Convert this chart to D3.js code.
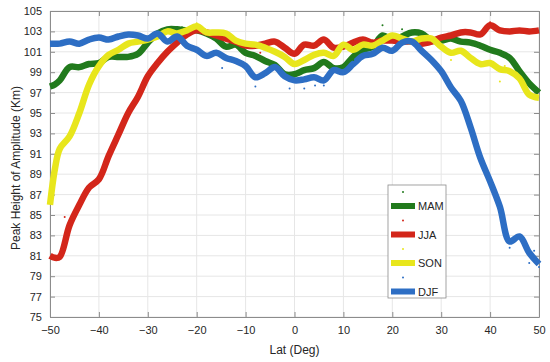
<!DOCTYPE html>
<html>
<head>
<meta charset="utf-8">
<script src="https://cdn.jsdelivr.net/npm/d3@7"></script>
<style>
  body { margin: 0; background: #fff; }
  text { font-family: "Liberation Sans", Arial, sans-serif; fill: #262626; }
</style>
</head>
<body>
<svg id="chart"></svg>
<script>
let width = 550,
    height = 362;

// latitude grid shared by every season
let lats = [-50, -49, -48, -46, -44, -42, -40, -38, -36, -34, -32, -30, -28, -26, -24, -22, -20,
    -18, -16, -14, -12, -10, -8, -6, -4, -2, 0, 2, 4, 6, 8, 10, 12, 14, 16, 18, 20,
    22, 24, 26, 28, 30, 32, 34, 36, 38, 40, 42, 44, 46, 48, 50];

let mam = [97.6, 97.8, 98.2, 99.5, 99.5, 99.8, 99.9, 100.5, 100.5, 100.5, 100.8, 101.9, 102.8, 103.2, 103.2, 103.1, 103.1,
    102.8, 102.3, 101.5, 101.7, 100.9, 100.6, 100.1, 99.7, 98.8, 98.8, 99.2, 99.4, 100.0, 99.4, 99.5, 100.5, 101.2, 101.5, 102.6, 102.2,
    102.5, 102.9, 102.8, 102.1, 102.1, 102.3, 102.0, 101.9, 101.6, 101.2, 100.9, 100.4, 99.1, 97.9, 97.0];

let jja = [81.0, 80.8, 80.9, 84.0, 86.0, 87.7, 88.5, 90.8, 92.9, 95.0, 96.6, 98.6, 99.9, 101.0, 101.9, 102.7, 103.1,
    102.9, 102.6, 102.3, 102.0, 101.6, 101.6, 101.8, 102.0, 101.4, 100.8, 101.7, 101.6, 102.2, 101.4, 101.5, 101.9, 102.2, 101.9, 102.1, 102.1,
    102.0, 102.0, 101.8, 102.0, 102.4, 102.6, 102.9, 102.9, 102.7, 103.6, 103.1, 103.0, 103.1, 103.0, 103.1];

let son = [86.0, 89.5, 91.5, 92.7, 95.0, 97.8, 99.6, 100.7, 101.2, 101.8, 102.0, 102.2, 102.5, 103.0, 102.8, 103.1, 103.5,
    102.9, 102.9, 102.8, 102.1, 101.8, 101.7, 101.4, 101.0, 100.5, 99.8, 100.2, 100.7, 100.9, 100.6, 101.7, 101.2, 101.7, 101.6, 102.1, 102.6,
    102.3, 102.0, 102.3, 102.3, 101.5, 100.9, 101.1, 100.4, 99.8, 99.9, 99.3, 99.1, 98.4, 96.8, 96.5];

let djf = [101.8, 101.8, 101.8, 102.0, 101.8, 102.2, 102.4, 102.2, 102.5, 102.7, 102.6, 102.3, 102.8, 102.0, 102.5, 101.6, 101.2,
    100.6, 100.9, 100.4, 100.1, 99.6, 98.5, 98.9, 99.5, 98.6, 98.2, 98.3, 98.5, 98.2, 99.2, 99.0, 99.8, 100.6, 100.8, 101.4, 101.1,
    101.9, 102.0, 101.1, 100.2, 99.1, 97.5, 96.2, 93.6, 90.6, 88.3, 85.8, 82.4, 82.9, 81.3, 80.2];

// scattered raw points (lat, height)
let mamDots = [[18, 103.6], [22, 103.2], [-23, 103.4], [12, 100.2]];
let jjaDots = [[-47, 84.8], [-7, 100.9], [40, 103.9]];
let sonDots = [[32, 100.2], [42, 98.1], [43, 99.6], [-20, 103.8]];
let djfDots = [[-17, 100.9], [-14.8, 99.4], [-8, 97.6], [-1, 97.4], [2, 97.4], [4.2, 97.7], [6, 97.7],
    [44, 81.8], [48, 80.3], [49, 81.5], [50, 79.9]];

let seasons = ['MAM', 'JJA', 'SON', 'DJF'];
let colors = ['#217a1c', '#d3261a', '#e8e61c', '#2d6ec4'];

let xTicks = [-50, -40, -30, -20, -10, 0, 10, 20, 30, 40, 50];
let yTicks = [75, 77, 79, 81, 83, 85, 87, 89, 91, 93, 95, 97, 99, 101, 103, 105];

let plotLeft = 50, plotRight = 539, plotTop = 11, plotBottom = 317;

let x = d3.scaleLinear().domain([-50, 50]).range([plotLeft, plotRight]);
let y = d3.scaleLinear().domain([75, 105]).range([plotBottom, plotTop]);

let svg = d3.select('svg#chart')
    .attr('width', width)
    .attr('height', height);

// grid
svg.append('g')
    .selectAll('line')
    .data(xTicks)
    .join('line')
    .attr('x1', d => x(d)).attr('x2', d => x(d))
    .attr('y1', plotTop).attr('y2', plotBottom)
    .attr('stroke', '#e6e6e6');
svg.append('g')
    .selectAll('line')
    .data(yTicks)
    .join('line')
    .attr('y1', d => y(d)).attr('y2', d => y(d))
    .attr('x1', plotLeft).attr('x2', plotRight)
    .attr('stroke', '#e6e6e6');

// axes, ticks pointing inwards on all four sides
let axisColor = '#8c8c8c';
function styleAxis(g) {
    g.select('.domain').attr('stroke', axisColor);
    g.selectAll('.tick line').attr('stroke', axisColor);
    g.selectAll('.tick text')
        .style('font-family', '"Liberation Sans", Arial, sans-serif')
        .style('font-size', '11px')
        .attr('fill', '#262626');
}

svg.append('g')
    .attr('transform', `translate(0,${plotBottom})`)
    .call(d3.axisBottom(x).tickValues(xTicks).tickSize(-5).tickPadding(9).tickSizeOuter(0))
    .call(styleAxis);
svg.append('g')
    .attr('transform', `translate(0,${plotTop})`)
    .call(d3.axisTop(x).tickValues(xTicks).tickSize(-5).tickFormat('').tickSizeOuter(0))
    .call(styleAxis);
svg.append('g')
    .attr('transform', `translate(${plotLeft},0)`)
    .call(d3.axisLeft(y).tickValues(yTicks).tickSize(-5).tickPadding(8).tickSizeOuter(0))
    .call(styleAxis);
svg.append('g')
    .attr('transform', `translate(${plotRight},0)`)
    .call(d3.axisRight(y).tickValues(yTicks).tickSize(-5).tickFormat('').tickSizeOuter(0))
    .call(styleAxis);

// lines
let series = [mam, jja, son, djf];
let line = d3.line()
    .x(d => x(d[0]))
    .y(d => y(d[1]))
    .curve(d3.curveCatmullRom.alpha(0.5));

svg.append('g')
    .selectAll('path')
    .data(series)
    .join('path')
    .attr('d', d => line(lats.map((lat, i) => [lat, d[i]])))
    .attr('fill', 'none')
    .attr('stroke', (d, i) => colors[i])
    .attr('stroke-width', 6.5)
    .attr('stroke-linejoin', 'round')
    .attr('stroke-linecap', 'butt');

let dots = [mamDots, jjaDots, sonDots, djfDots];
dots.forEach((set, i) => {
    svg.append('g')
        .selectAll('circle')
        .data(set)
        .join('circle')
        .attr('cx', d => x(d[0]))
        .attr('cy', d => y(d[1]))
        .attr('r', 1)
        .attr('fill', colors[i]);
});

// axis labels
svg.append('text')
    .attr('x', (plotLeft + plotRight) / 2)
    .attr('y', 354)
    .attr('text-anchor', 'middle')
    .style('font-size', '12px')
    .text('Lat (Deg)');
svg.append('text')
    .attr('transform', `translate(20,${(plotTop + plotBottom) / 2 + 4}) rotate(-90)`)
    .attr('text-anchor', 'middle')
    .style('font-size', '12px')
    .text('Peak Height of Amplitude (Km)');

// legend
let legend = svg.append('g');
legend.append('rect')
    .attr('x', 388).attr('y', 185)
    .attr('width', 58).attr('height', 113)
    .attr('fill', '#fff')
    .attr('stroke', '#8c8c8c')
    .attr('stroke-width', 0.8);

seasons.forEach((s, i) => {
    let yy = 192 + i * 28.5;
    legend.append('circle')
        .attr('cx', 403).attr('cy', yy)
        .attr('r', 1)
        .attr('fill', colors[i]);
    legend.append('line')
        .attr('x1', 391).attr('x2', 415)
        .attr('y1', yy + 14).attr('y2', yy + 14)
        .attr('stroke', colors[i])
        .attr('stroke-width', 6);
    legend.append('text')
        .attr('x', 418).attr('y', yy + 18)
        .style('font-size', '11px')
        .text(s);
});
</script>
</body>
</html>
